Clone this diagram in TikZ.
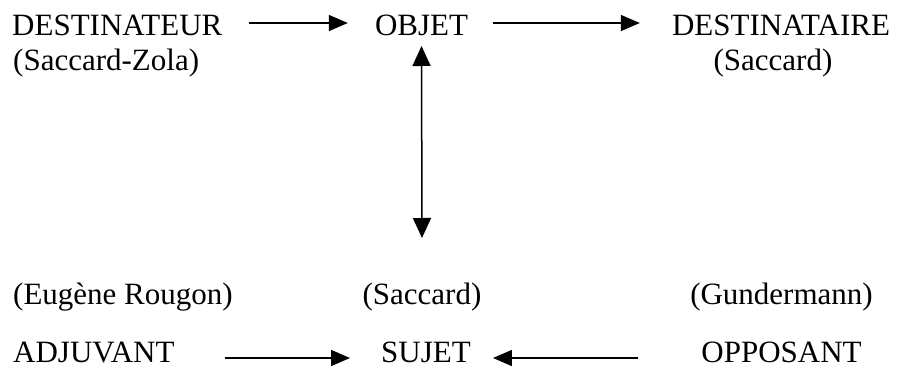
\documentclass[tikz,border=0pt]{standalone}
\usepackage{fontspec}
\setmainfont{Liberation Serif}
\usetikzlibrary{arrows.meta}
\begin{document}
\begin{tikzpicture}[x=1pt,y=-1pt, every node/.style={inner sep=0pt,font=\fontsize{31}{37}\selectfont},
    fleche/.style={-{Triangle[length=19pt,width=16pt]},line width=1.5pt}]
          \useasboundingbox (0,0) rectangle (903,367);
          % axe du desir
          \node[anchor=base west] (dest) at (12,35) {DESTINATEUR};
          \node[anchor=base] (objet) at (421.5,35) {OBJET};
          \node[anchor=base] (destre) at (781,35) {DESTINATAIRE};
          \node[anchor=base west] (sacZ) at (13,70) {(Saccard-Zola)};
          \node[anchor=base] (sacT) at (773,70) {(Saccard)};
          % axe du pouvoir
          \node[anchor=base west] (eug) at (13,304) {(Eugène Rougon)};
          \node[anchor=base] (sacB) at (422,304) {(Saccard)};
          \node[anchor=base] (gund) at (781.5,304) {(Gundermann)};
          \node[anchor=base west,text depth=0pt] (adj) at (13,362) {ADJUVANT};
          \node[anchor=base,text depth=0pt] (sujet) at (426,362) {SUJET};
          \node[anchor=base,text depth=0pt] (opp) at (781.5,362) {OPPOSANT};
          \draw[fleche,shorten <=27pt,shorten >=27pt] ([yshift=12pt]dest.base east) -- ([yshift=12pt]objet.base west);
          \draw[fleche,shorten <=25pt,shorten >=32pt] ([yshift=12pt]objet.base east) -- ([yshift=12pt]destre.base west);
          \draw[fleche,{Triangle[length=20pt,width=18pt]}-{Triangle[length=20pt,width=18pt]}] ([yshift=-11pt]objet.base) -- ([yshift=66pt]sacB.base);
          \draw[fleche,shorten <=50pt,shorten >=31pt] ([yshift=4pt]adj.base east) -- ([yshift=4pt]sujet.base west);
          \draw[fleche,shorten <=63pt,shorten >=22pt] ([yshift=4pt]opp.base west) -- ([yshift=4pt]sujet.base east);
        \end{tikzpicture}
\end{document}
